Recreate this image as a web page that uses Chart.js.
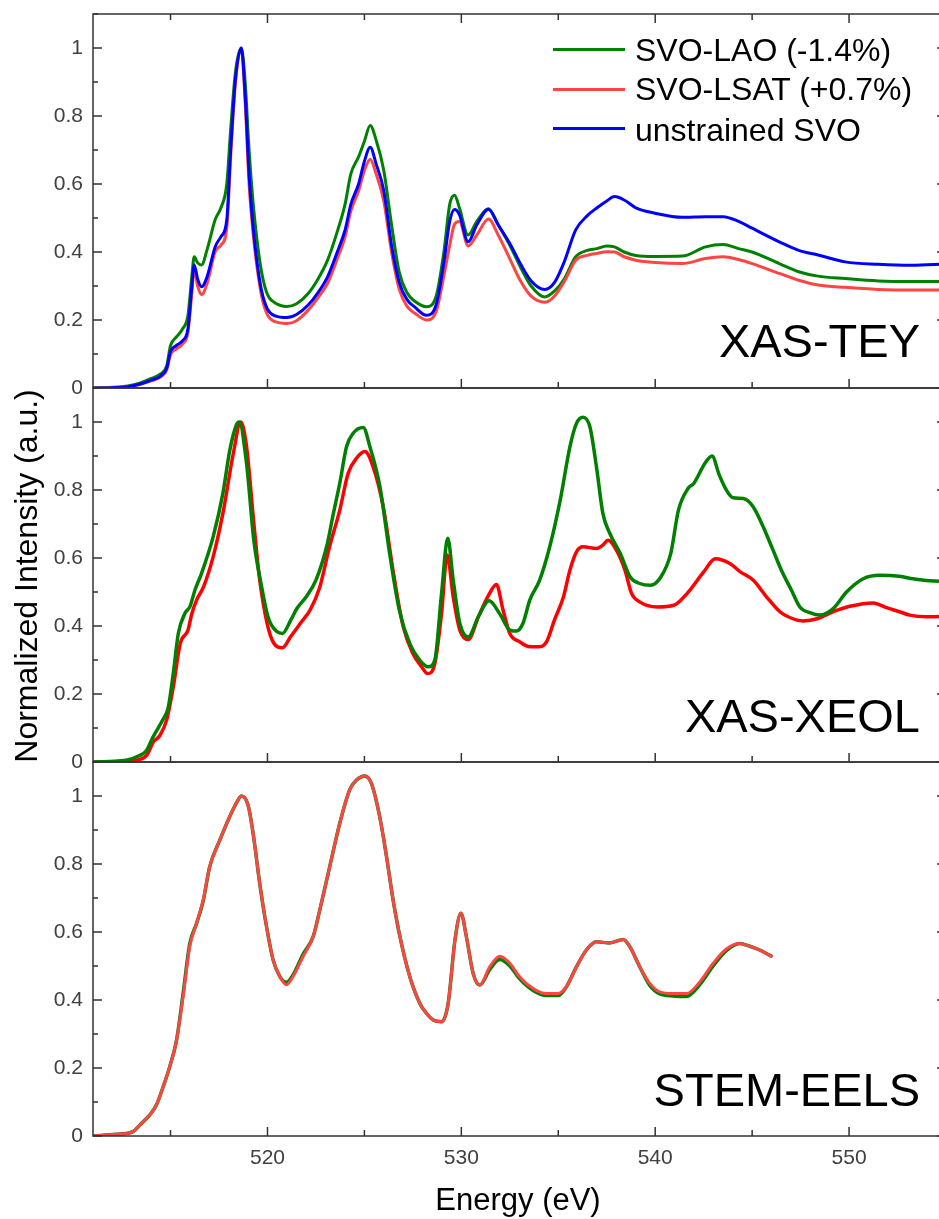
<!DOCTYPE html>
<html>
<head>
<meta charset="utf-8">
<script src="https://cdn.jsdelivr.net/npm/chart.js@4.4.0/dist/chart.umd.min.js"></script>
<style>
  html, body { margin: 0; padding: 0; background: #fff; overflow: hidden; }
  #wrap { position: relative; width: 939px; height: 1219px; overflow: hidden;
          font-family: "Liberation Sans", Arial, sans-serif; }
  canvas { position: absolute; left: 0; }
  .txt { position: absolute; white-space: nowrap; color: #000; line-height: 1; }
  .lg-line { position: absolute; left: 553px; width: 72px; height: 3px; }
  .lg-txt { position: absolute; left: 635px; font-size: 32px; line-height: 1; white-space: nowrap; }
  .panel-lbl { position: absolute; right: 19px; font-size: 47px; line-height: 1; white-space: nowrap; }
</style>
</head>
<body>
<div id="wrap">
  <canvas id="cTey" width="946" height="403" style="top:0px"></canvas>
  <canvas id="cXeol" width="946" height="404" style="top:373px"></canvas>
  <canvas id="cEels" width="946" height="472" style="top:747px"></canvas>

  <div class="lg-line" style="top:48px;background:#008000"></div>
  <div class="lg-txt" style="top:34px">SVO-LAO (-1.4%)</div>
  <div class="lg-line" style="top:87.5px;background:#ff4444"></div>
  <div class="lg-txt" style="top:73px">SVO-LSAT (+0.7%)</div>
  <div class="lg-line" style="top:127px;background:#0000ff"></div>
  <div class="lg-txt" style="top:114px">unstrained SVO</div>

  <div class="panel-lbl" style="top:317px">XAS-TEY</div>
  <div class="panel-lbl" style="top:692px">XAS-XEOL</div>
  <div class="panel-lbl" style="top:1066px">STEM-EELS</div>

  <div class="txt" style="left:-184px;top:560px;width:420px;height:32px;font-size:32px;text-align:center;transform:rotate(-90deg)">Normalized Intensity (a.u.)</div>
  <div class="txt" style="left:318px;top:1184px;width:400px;font-size:31px;text-align:center">Energy (eV)</div>
</div>
<script>
// energy axis range (eV)
const xMin = 511;
const xMax = 555;

// XAS-TEY
const teyEnergy = [511, 512, 512.8, 513.4, 514, 514.5, 514.8, 515.0, 515.3, 515.6, 515.9, 516.1, 516.22, 516.4, 516.6, 516.9, 517.3, 517.6, 517.9, 518.1, 518.35, 518.65, 518.85, 519.05, 519.25, 519.45, 519.7, 520.0, 520.4, 521.0, 521.5, 522.1, 522.6, 523.1, 523.6, 524.0, 524.3, 524.7, 525.0, 525.3, 525.6, 526.0, 526.4, 526.8, 527.2, 527.6, 528.2, 528.7, 529.1, 529.4, 529.65, 529.9, 530.35, 530.8, 531.4, 531.9, 532.5, 533.1, 533.6, 534.3, 534.8, 535.3, 535.9, 536.5, 537.0, 537.5, 537.9, 538.4, 539.0, 540.0, 541.4, 542.6, 543.5, 544.3, 545.0, 546.4, 547.4, 548.4, 549.8, 551.5, 553.2, 555];
const teyLAO = [0, 0.002, 0.006, 0.014, 0.028, 0.042, 0.065, 0.125, 0.15, 0.172, 0.215, 0.33, 0.386, 0.368, 0.362, 0.41, 0.495, 0.53, 0.6, 0.76, 0.93, 1.0, 0.9, 0.7, 0.55, 0.44, 0.34, 0.275, 0.25, 0.24, 0.248, 0.278, 0.32, 0.376, 0.46, 0.54, 0.63, 0.68, 0.726, 0.772, 0.73, 0.64, 0.48, 0.34, 0.28, 0.255, 0.239, 0.27, 0.4, 0.54, 0.567, 0.53, 0.45, 0.49, 0.527, 0.48, 0.42, 0.35, 0.3, 0.268, 0.285, 0.32, 0.386, 0.405, 0.41, 0.418, 0.415, 0.4, 0.39, 0.387, 0.388, 0.415, 0.422, 0.41, 0.4, 0.366, 0.342, 0.329, 0.322, 0.315, 0.313, 0.313];
const teyLSAT = [0, 0.001, 0.004, 0.01, 0.021, 0.033, 0.052, 0.098, 0.115, 0.128, 0.165, 0.28, 0.35, 0.3, 0.275, 0.31, 0.4, 0.42, 0.47, 0.68, 0.9, 1.0, 0.84, 0.6, 0.46, 0.36, 0.27, 0.215, 0.195, 0.19, 0.198, 0.229, 0.265, 0.308, 0.38, 0.444, 0.52, 0.58, 0.64, 0.673, 0.63, 0.55, 0.4, 0.29, 0.24, 0.22, 0.2, 0.225, 0.33, 0.42, 0.482, 0.49, 0.418, 0.45, 0.497, 0.45, 0.38, 0.31, 0.27, 0.252, 0.27, 0.312, 0.376, 0.39, 0.396, 0.401, 0.4, 0.386, 0.376, 0.369, 0.366, 0.381, 0.386, 0.378, 0.366, 0.337, 0.317, 0.303, 0.296, 0.29, 0.288, 0.288];
const teySVO = [0, 0.001, 0.004, 0.011, 0.023, 0.036, 0.058, 0.108, 0.125, 0.138, 0.175, 0.3, 0.362, 0.32, 0.298, 0.33, 0.415, 0.445, 0.494, 0.7, 0.91, 1.0, 0.86, 0.63, 0.48, 0.375, 0.285, 0.232, 0.212, 0.207, 0.216, 0.244, 0.28, 0.327, 0.4, 0.464, 0.54, 0.6, 0.667, 0.708, 0.66, 0.58, 0.42, 0.31, 0.26, 0.238, 0.214, 0.245, 0.37, 0.49, 0.525, 0.51, 0.43, 0.48, 0.526, 0.48, 0.425, 0.36, 0.315, 0.29, 0.31, 0.37, 0.465, 0.507, 0.53, 0.55, 0.563, 0.553, 0.53, 0.514, 0.502, 0.504, 0.504, 0.49, 0.47, 0.43, 0.405, 0.391, 0.371, 0.364, 0.361, 0.365];

// XAS-XEOL
const xeolLaoEnergy = [511, 512.7, 513.4, 513.76, 514.1, 514.6, 514.88, 515.14, 515.4, 515.74, 516.0, 516.26, 516.6, 517.2, 517.7, 518.06, 518.4, 518.54, 518.92, 519.3, 519.7, 519.98, 520.2, 520.77, 521.2, 521.5, 522.0, 522.5, 523.05, 523.4, 523.73, 524.08, 524.42, 524.94, 525.28, 525.8, 526.3, 526.8, 527.34, 527.86, 528.29, 528.63, 528.98, 529.3, 529.58, 529.92, 530.35, 530.9, 531.43, 531.98, 532.5, 532.84, 533.18, 533.53, 534.04, 534.56, 535.1, 535.6, 535.94, 536.28, 536.63, 536.97, 537.3, 537.66, 538.2, 538.7, 539.2, 539.75, 540.3, 540.8, 541.2, 541.7, 542.0, 542.56, 542.93, 543.3, 543.67, 544.02, 544.54, 545.05, 545.57, 546.08, 546.51, 547.03, 547.46, 547.98, 548.5, 549.18, 549.87, 550.73, 551.59, 552.6, 553.3, 554.16, 555];
const xeolLao = [0, 0.005, 0.019, 0.034, 0.074, 0.124, 0.16, 0.26, 0.378, 0.437, 0.457, 0.506, 0.555, 0.663, 0.79, 0.918, 0.992, 1.0, 0.878, 0.65, 0.515, 0.437, 0.403, 0.378, 0.417, 0.45, 0.486, 0.535, 0.633, 0.731, 0.82, 0.928, 0.967, 0.984, 0.928, 0.81, 0.614, 0.447, 0.348, 0.299, 0.28, 0.299, 0.496, 0.658, 0.535, 0.408, 0.368, 0.43, 0.474, 0.436, 0.388, 0.385, 0.408, 0.476, 0.535, 0.633, 0.77, 0.927, 0.996, 1.014, 0.986, 0.868, 0.731, 0.672, 0.613, 0.545, 0.525, 0.52, 0.545, 0.613, 0.741, 0.805, 0.82, 0.878, 0.9, 0.845, 0.8, 0.777, 0.775, 0.751, 0.692, 0.623, 0.564, 0.505, 0.456, 0.439, 0.432, 0.451, 0.5, 0.539, 0.549, 0.546, 0.539, 0.533, 0.531];
const xeolLsatEnergy = [511, 513.0, 513.76, 514.1, 514.45, 514.8, 515.14, 515.5, 515.9, 516.1, 516.35, 516.7, 517.2, 517.7, 518.24, 518.62, 518.92, 519.3, 519.6, 519.98, 520.32, 520.77, 521.2, 521.7, 522.2, 522.7, 523.2, 523.73, 524.16, 524.6, 525.03, 525.45, 525.97, 526.5, 527.0, 527.5, 527.95, 528.26, 528.63, 528.98, 529.27, 529.58, 529.92, 530.35, 530.9, 531.4, 531.81, 532.15, 532.5, 533.0, 533.53, 534.04, 534.4, 534.8, 535.27, 535.6, 535.94, 536.28, 536.97, 537.3, 537.57, 538.0, 538.44, 538.78, 539.2, 540.1, 540.96, 541.65, 542.5, 543.1, 543.85, 544.37, 545.05, 545.74, 546.43, 546.94, 547.63, 548.4, 549.18, 550.04, 551.24, 551.93, 552.6, 553.13, 553.99, 555];
const xeolLsat = [0, 0.004, 0.019, 0.058, 0.078, 0.124, 0.22, 0.348, 0.388, 0.437, 0.477, 0.515, 0.604, 0.731, 0.908, 1.0, 0.928, 0.7, 0.535, 0.408, 0.35, 0.336, 0.369, 0.408, 0.447, 0.515, 0.633, 0.741, 0.849, 0.894, 0.913, 0.868, 0.751, 0.555, 0.398, 0.319, 0.28, 0.26, 0.289, 0.437, 0.609, 0.486, 0.388, 0.36, 0.43, 0.49, 0.522, 0.447, 0.378, 0.354, 0.339, 0.339, 0.354, 0.417, 0.486, 0.564, 0.618, 0.633, 0.628, 0.638, 0.652, 0.623, 0.564, 0.496, 0.471, 0.456, 0.461, 0.496, 0.559, 0.598, 0.584, 0.56, 0.535, 0.486, 0.442, 0.425, 0.415, 0.422, 0.442, 0.458, 0.468, 0.454, 0.442, 0.432, 0.427, 0.429];

// STEM-EELS
const eelsEnergy = [511, 512.2, 513.07, 513.41, 513.93, 514.27, 514.62, 514.96, 515.31, 515.65, 515.99, 516.34, 516.68, 517.02, 517.54, 518.05, 518.4, 518.66, 519.0, 519.26, 519.6, 519.95, 520.29, 520.64, 520.98, 521.32, 521.84, 522.36, 522.7, 523.21, 523.73, 524.24, 524.59, 525.02, 525.36, 525.79, 526.14, 526.48, 526.83, 527.34, 527.86, 528.2, 528.55, 528.98, 529.32, 529.67, 529.98, 530.26, 530.61, 530.95, 531.47, 531.98, 532.5, 533.01, 533.7, 534.39, 534.99, 535.42, 535.94, 536.45, 536.97, 537.66, 538.35, 538.69, 539.2, 539.72, 540.24, 540.92, 541.61, 542.3, 542.99, 543.67, 544.36, 544.88, 545.39, 546.05];
const eelsLAO = [0, 0.005, 0.013, 0.032, 0.062, 0.091, 0.145, 0.204, 0.282, 0.42, 0.565, 0.625, 0.69, 0.792, 0.87, 0.939, 0.98, 1.0, 0.973, 0.89, 0.743, 0.616, 0.518, 0.469, 0.452, 0.474, 0.535, 0.587, 0.665, 0.792, 0.92, 1.018, 1.047, 1.059, 1.037, 0.939, 0.822, 0.694, 0.587, 0.469, 0.39, 0.361, 0.341, 0.336, 0.39, 0.576, 0.655, 0.586, 0.478, 0.444, 0.49, 0.519, 0.5, 0.462, 0.428, 0.413, 0.413, 0.439, 0.498, 0.547, 0.571, 0.568, 0.578, 0.557, 0.498, 0.443, 0.418, 0.412, 0.41, 0.445, 0.5, 0.545, 0.566, 0.558, 0.547, 0.527];
const eelsLSAT = [0, 0.005, 0.013, 0.032, 0.062, 0.091, 0.145, 0.204, 0.282, 0.41, 0.557, 0.625, 0.694, 0.792, 0.87, 0.939, 0.98, 1.0, 0.973, 0.89, 0.743, 0.616, 0.518, 0.469, 0.445, 0.469, 0.528, 0.587, 0.665, 0.792, 0.92, 1.018, 1.047, 1.059, 1.037, 0.939, 0.822, 0.694, 0.587, 0.469, 0.39, 0.361, 0.341, 0.336, 0.39, 0.576, 0.655, 0.586, 0.478, 0.444, 0.498, 0.529, 0.508, 0.468, 0.434, 0.419, 0.419, 0.439, 0.498, 0.547, 0.571, 0.568, 0.578, 0.557, 0.498, 0.449, 0.424, 0.419, 0.419, 0.453, 0.508, 0.55, 0.566, 0.558, 0.547, 0.527];

const GREEN = '#008000';
const RED_LIGHT = '#ff4444';
const RED = '#ff0000';
const BLUE = '#0000ff';

function pts(xs, ys){ return xs.map((x, i) => ({ x, y: ys[i] })); }

function line(label, xs, ys, color, width, order){
  return { label, data: pts(xs, ys), borderColor: color, borderWidth: width, order,
           pointRadius: 0, fill: false, cubicInterpolationMode: 'monotone' };
}

function yLabel(v){
  const n = Math.round(v * 10);
  if(n % 2 !== 0) return '';
  if(n === 10) return '1';
  if(n === 0) return '0';
  return (n / 10).toFixed(1);
}

// frame + inward tick marks (major/minor), from the scales' own ticks
const frameTicks = {
  id: 'frameTicks',
  afterDatasetsDraw(chart, args, opts){
    const { ctx, chartArea: a } = chart;
    const x = chart.scales.x, y = chart.scales.y;
    ctx.save();
    ctx.strokeStyle = '#333';
    ctx.lineWidth = 1.5;
    ctx.strokeRect(a.left, a.top, a.right - a.left, a.bottom - a.top);
    ctx.beginPath();
    x.ticks.forEach(t => {
      const v = Math.round(t.value * 100) / 100;
      if(v % 5 !== 0) return;
      const len = v % 10 === 0 ? 9 : 6;
      const px = x.getPixelForValue(v);
      ctx.moveTo(px, a.bottom); ctx.lineTo(px, a.bottom - len);
      if(opts.top){ ctx.moveTo(px, a.top); ctx.lineTo(px, a.top + len); }
    });
    y.ticks.forEach(t => {
      const n = Math.round(t.value * 10);
      const len = n % 2 === 0 ? 9 : 5;
      const py = y.getPixelForValue(n / 10);
      ctx.moveTo(a.left, py); ctx.lineTo(a.left + len, py);
      ctx.moveTo(a.right, py); ctx.lineTo(a.right - len, py);
    });
    ctx.stroke();
    ctx.restore();
  }
};

Chart.defaults.font.family = '"Liberation Sans", Arial, sans-serif';

function panel(id, padTop, bottomH, showX, topTicks, datasets){
  return new Chart(document.getElementById(id), {
    type: 'line',
    data: { datasets },
    options: {
      responsive: false,
      animation: false,
      devicePixelRatio: 1,
      layout: { padding: { top: padTop, left: 0, right: 0, bottom: 0 } },
      plugins: { legend: { display: false }, tooltip: { enabled: false }, frameTicks: { top: topTicks } },
      scales: {
        x: {
          type: 'linear', min: xMin, max: xMax,
          border: { display: false },
          grid: { display: false, drawTicks: false },
          ticks: { display: showX, stepSize: 5, autoSkip: false, maxRotation: 0, padding: 10,
                   color: '#404040', font: { size: 21 },
                   callback: v => (v % 10 === 0 ? String(v) : '') },
          afterFit: s => { s.height = bottomH; s.paddingLeft = 0; s.paddingRight = 0; }
        },
        y: {
          min: 0, max: 1.1,
          border: { display: false },
          grid: { display: false, drawTicks: false },
          ticks: { stepSize: 0.1, autoSkip: false, padding: 10, color: '#404040',
                   font: { size: 21 }, callback: yLabel },
          afterFit: s => { s.width = 93; s.paddingTop = 0; s.paddingBottom = 0; }
        }
      }
    },
    plugins: [frameTicks]
  });
}

// canvases overlap (transparent) so edge tick labels are not cut
panel('cTey', 14, 15, false, true, [
  line('SVO-LAO (-1.4%)', teyEnergy, teyLAO, GREEN, 3, 2),
  line('SVO-LSAT (+0.7%)', teyEnergy, teyLSAT, RED_LIGHT, 3, 1),
  line('unstrained SVO', teyEnergy, teySVO, BLUE, 3, 0)
]);

panel('cXeol', 15, 15, false, false, [
  line('SVO-LAO (-1.4%)', xeolLaoEnergy, xeolLao, GREEN, 3.5, 0),
  line('SVO-LSAT (+0.7%)', xeolLsatEnergy, xeolLsat, RED, 3.5, 1)
]);

panel('cEels', 15, 83, true, false, [
  line('SVO-LAO (-1.4%)', eelsEnergy, eelsLAO, GREEN, 3.5, 1),
  line('SVO-LSAT (+0.7%)', eelsEnergy, eelsLSAT, RED_LIGHT, 3, 0)
]);
</script>
</body>
</html>
